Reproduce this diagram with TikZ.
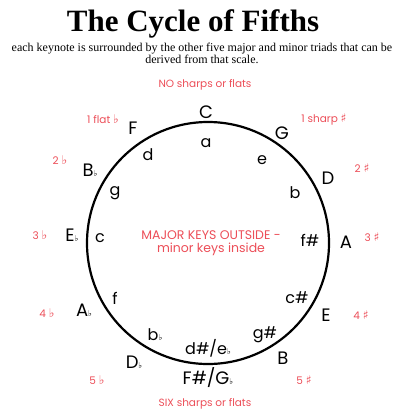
\documentclass[tikz,border=0pt]{standalone}
\usepackage{fontspec}
\setmainfont{Liberation Serif}
\newfontfamily\keyfont{Poppins}
\newfontfamily\symfont{DejaVu Sans}
\definecolor{sigred}{RGB}{236,78,88}
\newcommand{\flt}{{\symfont\fontsize{8}{8}\selectfont ♭}}
\newcommand{\sflt}{{\symfont\fontsize{12}{12}\selectfont ♭}}
\newcommand{\sshp}{{\symfont\fontsize{12}{12}\selectfont ♯}}

\begin{document}
\begin{tikzpicture}[
    x=1pt, y=-1pt,
    major/.style={font=\keyfont\fontsize{18}{18}\selectfont, inner sep=0pt},
    minor/.style={font=\keyfont\fontsize{16}{16}\selectfont, inner sep=0pt},
    sig/.style={font=\keyfont\fontsize{10.5}{10.5}\selectfont, text=sigred, inner sep=0pt}
  ]
  \useasboundingbox (0,0) rectangle (408,413);
  \node[font=\bfseries\fontsize{31}{31}\selectfont] (title) at (193,24) {The Cycle of Fifths};
  \node[font=\fontsize{12}{11}\selectfont, align=center] (sub) at (202,53)
    {each keynote is surrounded by the other five major and minor triads that can be\\
     derived from that scale.};
  \coordinate (ctr) at (208,243);
  \draw[line width=2.2pt] (ctr) circle[radius=121];
  % major keys, outside
  \node[major] (C)  at (206,112) {C};
  \node[major] (G)  at (282,133) {G};
  \node[major] (D)  at (328,178) {D};
  \node[major] (A)  at (346,242) {A};
  \node[major] (E)  at (326,315) {E};
  \node[major] (B)  at (283,358) {B};
  \node[major] (Fs) at (208,378) {F\#/G\flt};
  \node[major] (Db) at (134,362) {D\flt};
  \node[major] (Ab) at (84,310)  {A\flt};
  \node[major] (Eb) at (72,235)  {E\flt};
  \node[major] (Bb) at (90,170)  {B\flt};
  \node[major] (F)  at (133,128) {F};
  % minor keys, inside
  \node[minor] (am)  at (206,143) {a};
  \node[minor] (em)  at (262,160) {e};
  \node[minor] (bm)  at (295,193) {b};
  \node[minor] (fsm) at (310,240) {f\#};
  \node[minor] (csm) at (297,298) {c\#};
  \node[minor] (gsm) at (265,335) {g\#};
  \node[minor] (dsm) at (208,348) {d\#/e\flt};
  \node[minor] (bbm) at (155,335) {b\flt};
  \node[minor] (fm)  at (115,298) {f};
  \node[minor] (cm)  at (100,238) {c};
  \node[minor] (gm)  at (115,193) {g};
  \node[minor] (dm)  at (148,155) {d};
  % key signatures
  \node[sig] (none) at (205,85)  {NO sharps or flats};
  \node[sig] (s1)   at (324,119) {1 sharp \sshp};
  \node[sig] (s2)   at (362,168) {2 \sshp};
  \node[sig] (s3)   at (372,237) {3 \sshp};
  \node[sig] (s4)   at (361,315) {4 \sshp};
  \node[sig] (s5)   at (304,380) {5 \sshp};
  \node[sig] (six)  at (205,404) {SIX sharps or flats};
  \node[sig] (f5)   at (97,380)  {5 \sflt};
  \node[sig] (f4)   at (47,313)  {4 \sflt};
  \node[sig] (f3)   at (40,235)  {3 \sflt};
  \node[sig] (f2)   at (60,160)  {2 \sflt};
  \node[sig] (f1)   at (103,119) {1 flat \sflt};
  \node[sig, font=\keyfont\fontsize{12.5}{13}\selectfont, align=center] (rule) at (211,243)
    {MAJOR KEYS OUTSIDE -\\minor keys inside};
\end{tikzpicture}
\end{document}
